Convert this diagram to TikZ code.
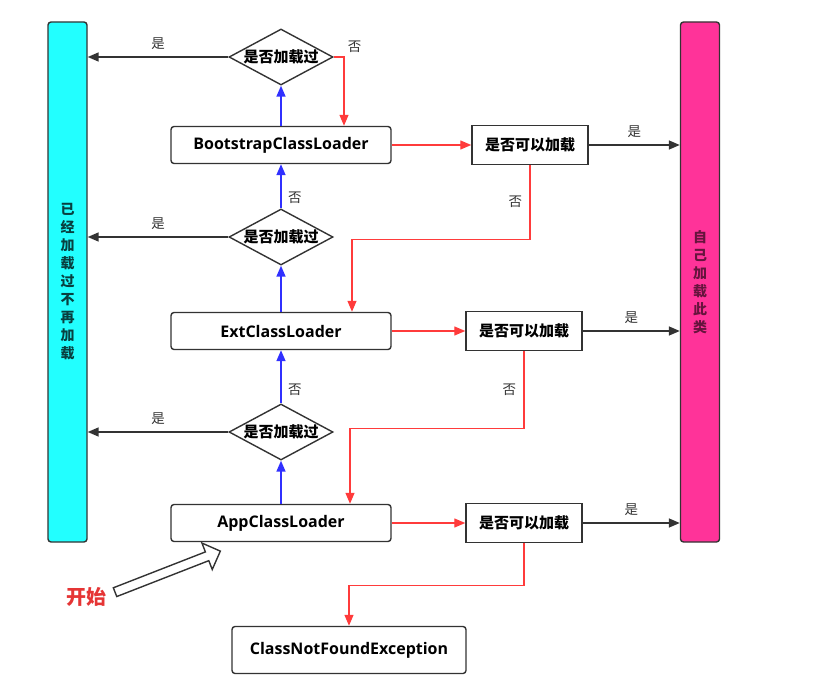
\documentclass[tikz,border=0pt]{standalone}
\usepackage{fontspec}
\setmainfont{Open Sans}
\newfontfamily\cjk{Noto Sans CJK SC}
\usetikzlibrary{positioning,shapes.geometric,shapes.arrows,arrows.meta}

\definecolor{dark}{HTML}{333333}
\definecolor{hitred}{HTML}{FF3B3B}
\definecolor{upblue}{HTML}{3030FF}
\definecolor{barcyan}{HTML}{22FFFF}
\definecolor{barpink}{HTML}{FF3399}

\tikzset{
  loader/.style={draw=dark, line width=1.4pt, rounded corners=3pt,
    minimum width=220pt, minimum height=37pt, font=\bfseries\fontsize{16}{18}\selectfont},
  check/.style={diamond, aspect=1.86, draw=dark, line width=1.4pt, inner sep=0pt,
    minimum width=104pt, minimum height=56pt, font=\cjk\bfseries\fontsize{15}{17}\selectfont},
  canload/.style={draw=dark, line width=1.4pt, minimum width=116pt, minimum height=39pt,
    font=\cjk\bfseries\fontsize{15}{17}\selectfont},
  bar/.style={draw=dark, line width=1.4pt, rounded corners=3pt,
    minimum width=39pt, minimum height=520pt, align=center,
    font=\cjk\bfseries\fontsize{14}{18}\selectfont},
  yes/.style={draw=dark, line width=1.6pt, -{Triangle[length=11pt,width=9pt]}},
  no/.style={draw=hitred, line width=1.3pt, -{Triangle[length=11pt,width=9pt]}},
  up/.style={draw=upblue, line width=1.6pt, -{Triangle[length=11pt,width=9pt]}},
  lbl/.style={font=\cjk\fontsize{13.5}{15}\selectfont, text=dark}
}

\begin{document}
\begin{tikzpicture}[x=1pt,y=-1pt]
  \useasboundingbox (0,0) rectangle (830,690);

  % side bars
  \node[bar, fill=barcyan, text=barcyan!25!black] (leftbar) at (67.5,282)
    {已\\经\\加\\载\\过\\不\\再\\加\\载};
  \node[bar, fill=barpink, text=barpink!40!black] (rightbar) at (700,282)
    {自\\己\\加\\载\\此\\类};

  % loaders
  \node[loader] (boot) at (281,145) {BootstrapClassLoader};
  \node[loader] (ext) at (281,331) {ExtClassLoader};
  \node[loader] (app) at (281,523) {AppClassLoader};
  \node[loader, minimum width=234pt, minimum height=47pt] (cnfe) at (349,650) {ClassNotFoundException};

  % checks
  \node[check] (ckboot) at (281,57) {是否加载过};
  \node[check] (ckext) at (281,237) {是否加载过};
  \node[check] (ckapp) at (281,432) {是否加载过};

  \node[canload] (ldboot) at (530,145) {是否可以加载};
  \node[canload] (ldext) at (524,331) {是否可以加载};
  \node[canload] (ldapp) at (524,523) {是否可以加载};

  % start
  \node[font=\cjk\bfseries\fontsize{20}{22}\selectfont, text=hitred!90!black] (start) at (86,597) {开始};
  \node[single arrow, draw=dark, line width=1.4pt, fill=white, rotate=21.3,
    inner xsep=0pt, inner ysep=4pt, single arrow head extend=9.5pt,
    single arrow head indent=0pt, minimum height=113pt] (startarrow) at (165.5,572.5) {};

  % already loaded
  \draw[yes] (ckboot.west) -- (ckboot.west -| leftbar.east) node[lbl, midway, above=3pt] {是};
  \draw[yes] (ckext.west) -- (ckext.west -| leftbar.east) node[lbl, midway, above=3pt] {是};
  \draw[yes] (ckapp.west) -- (ckapp.west -| leftbar.east) node[lbl, midway, above=3pt] {是};

  % delegate upwards
  \draw[up] (boot.north) -- (ckboot.south);
  \draw[up] (ext.north) -- (ckext.south);
  \draw[up] (ckext.north) -- (boot.south) node[lbl, pos=0.25, right=3pt] {否};
  \draw[up] (app.north) -- (ckapp.south);
  \draw[up] (ckapp.north) -- (ext.south) node[lbl, pos=0.25, right=3pt] {否};

  % top level not loaded
  \draw[no] (ckboot.east) -| ([xshift=63pt]boot.north) node[lbl, pos=0.2, above right=0pt and 6pt] {否};

  % try to load
  \draw[no] (boot.east) -- (ldboot.west);
  \draw[no] (ext.east) -- (ldext.west);
  \draw[no] (app.east) -- (ldapp.west);

  \draw[yes] (ldboot.east) -- (ldboot.east -| rightbar.west) node[lbl, midway, above=3pt] {是};
  \draw[yes] (ldext.east) -- (ldext.east -| rightbar.west) node[lbl, midway, above=3pt] {是};
  \draw[yes] (ldapp.east) -- (ldapp.east -| rightbar.west) node[lbl, midway, above=3pt] {是};

  % cannot load, go down
  \draw[no] (ldboot.south) -- ++(0,74) node[lbl, midway, left=4pt] {否} -| ([xshift=71pt]ext.north);
  \draw[no] (ldext.south) -- ++(0,77) node[lbl, midway, left=4pt] {否} -| ([xshift=69pt]app.north);
  \draw[no] (ldapp.south) -- ++(0,42) -| (cnfe.north);
\end{tikzpicture}
\end{document}
